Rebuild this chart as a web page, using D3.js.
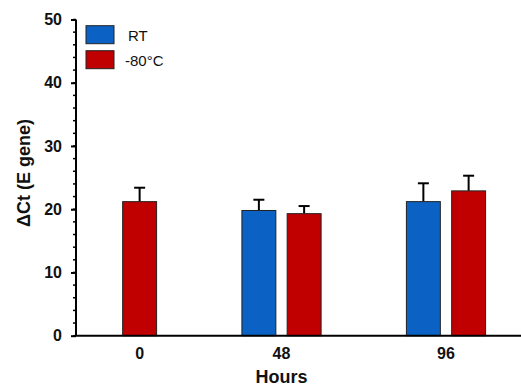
<!DOCTYPE html>
<html>
<head>
<meta charset="utf-8">
<script src="https://cdn.jsdelivr.net/npm/d3@7"></script>
<style>
  body { margin: 0; background: #fff; }
  text { font-family: "Liberation Sans", Arial, sans-serif; }
</style>
</head>
<body>
<script>
// values
var hours = ["0", "48", "96"];
var series = ["RT", "-80°C"];
var rtMean = [null, 19.8, 21.2];
var rtSD = [null, 1.7, 2.9];
var coldMean = [21.2, 19.3, 22.9];
var coldSD = [2.2, 1.2, 2.4];
var yTicks = [0, 10, 20, 30, 40, 50];
var colors = ["#0b62c4", "#c00000"];

var width = 521, height = 386;
var svg = d3.select("body").append("svg")
    .attr("width", width)
    .attr("height", height);

var y = d3.scaleLinear().domain([0, 50]).range([335.7, 19.5]);
var x = d3.scalePoint().domain(hours).range([117, 446]);
var xs = d3.scaleBand().domain(series).range([-39.6, 39.6]).paddingInner(0.25);

// build bar records
var bars = [];
hours.forEach(function(h, i) {
  if (rtMean[i] != null) bars.push({h: h, s: series[0], v: rtMean[i], sd: rtSD[i], c: colors[0]});
  if (coldMean[i] != null) bars.push({h: h, s: series[1], v: coldMean[i], sd: coldSD[i], c: colors[1]});
});

// error bars (behind bars)
var cx = function(d) { return x(d.h) + xs(d.s) + xs.bandwidth() / 2; };
svg.selectAll(".err")
    .data(bars)
    .enter().append("line")
    .attr("x1", cx).attr("x2", cx)
    .attr("y1", function(d) { return y(d.v); })
    .attr("y2", function(d) { return y(d.v + d.sd); })
    .attr("stroke", "#000").attr("stroke-width", 2);
svg.selectAll(".cap")
    .data(bars)
    .enter().append("line")
    .attr("x1", function(d) { return cx(d) - 5.5; })
    .attr("x2", function(d) { return cx(d) + 5.5; })
    .attr("y1", function(d) { return y(d.v + d.sd); })
    .attr("y2", function(d) { return y(d.v + d.sd); })
    .attr("stroke", "#000").attr("stroke-width", 2);

svg.selectAll(".bar")
    .data(bars)
    .enter().append("rect")
    .attr("x", function(d) { return x(d.h) + xs(d.s); })
    .attr("width", xs.bandwidth())
    .attr("y", function(d) { return y(d.v); })
    .attr("height", function(d) { return y(0) - y(d.v); })
    .attr("fill", function(d) { return d.c; })
    .attr("stroke", "#222")
    .attr("stroke-width", 1);

// y axis with minor ticks
var yAxis = d3.axisLeft(y).tickValues(yTicks).tickSize(5).tickPadding(9);
var gy = svg.append("g").attr("transform", "translate(76,0)");
gy.selectAll(".minor")
    .data(d3.range(0, 51, 2))
    .enter().append("line")
    .attr("x1", -3).attr("x2", 0)
    .attr("y1", function(d) { return y(d); })
    .attr("y2", function(d) { return y(d); })
    .attr("stroke", "#000").attr("stroke-width", 1.5);
gy.call(yAxis);
gy.select(".domain").attr("stroke-width", 2).attr("d", "M0," + y(50) + "V" + y(0));
gy.selectAll(".tick line").attr("stroke-width", 2);
gy.selectAll(".tick text")
    .attr("font-size", 16).attr("font-weight", "bold")
    .attr("font-family", "Liberation Sans, Arial, sans-serif")
    .attr("fill", "#111");

// x axis line
svg.append("line")
    .attr("x1", 75).attr("x2", 521)
    .attr("y1", y(0)).attr("y2", y(0))
    .attr("stroke", "#000").attr("stroke-width", 2);

// x labels centered under the bars present in each group
svg.selectAll(".xlab")
    .data(hours)
    .enter().append("text")
    .attr("x", function(h) { return d3.mean(bars.filter(function(b) { return b.h === h; }), cx); })
    .attr("y", 359)
    .attr("text-anchor", "middle")
    .attr("font-size", 16).attr("font-weight", "bold").attr("fill", "#111")
    .text(function(h) { return h; });

svg.append("text")
    .attr("x", x("48")).attr("y", 383)
    .attr("text-anchor", "middle")
    .attr("font-size", 18).attr("font-weight", "bold").attr("fill", "#111")
    .text("Hours");

svg.append("text")
    .attr("transform", "translate(30,173) rotate(-90)")
    .attr("text-anchor", "middle")
    .attr("font-size", 18).attr("font-weight", "bold").attr("fill", "#111")
    .text("ΔCt (E gene)");

// legend
var leg = svg.append("g").selectAll("g")
    .data(series)
    .enter().append("g")
    .attr("transform", function(d, i) { return "translate(86," + (25.7 + i * 25) + ")"; });
leg.append("rect")
    .attr("width", 28).attr("height", 18)
    .attr("fill", function(d, i) { return colors[i]; })
    .attr("stroke", "#222").attr("stroke-width", 1);
leg.append("text")
    .attr("x", function(d, i) { return i === 0 ? 42 : 39; })
    .attr("y", 15)
    .attr("font-size", 15).attr("fill", "#111")
    .text(function(d) { return d; });
</script>
</body>
</html>
